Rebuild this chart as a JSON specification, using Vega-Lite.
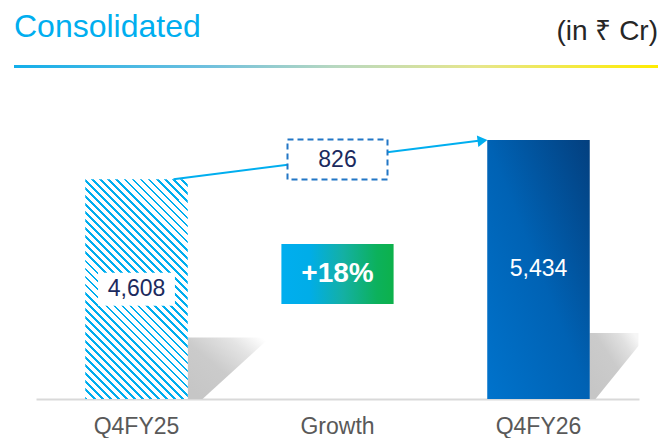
{
  "$schema": "https://vega.github.io/schema/vega-lite/v6.json",
  "padding": {"left": 14, "top": 0, "right": 0, "bottom": 0},
  "background": "white",
  "spacing": 12,
  "config": {
    "view": {"stroke": null},
    "font": "Liberation Sans",
    "axisX": {"domainColor": "#D9D9D9", "domainWidth": 2, "ticks": false, "tickSize": 0, "labelFontSize": 23, "labelColor": "#595959", "labelPadding": 16, "labelAngle": 0, "grid": false, "labelFont": "Liberation Sans"}
  },
  "datasets": {
    "bars": [{"period": "Q4FY25", "value": 4608}, {"period": "Q4FY26", "value": 5434}],
    "growth": [{"period": "Growth", "from": "Q4FY25", "to": "Q4FY26", "start": 4608, "end": 5434, "change": 826, "pct": "+18%"}],
    "header": [{"title": "Consolidated", "unit": "(in ₹ Cr)"}]
  },
  "vconcat": [
    {
      "width": 644,
      "height": 68,
      "data": {"name": "header"},
      "layer": [
        {
          "mark": {"type": "rect", "fill": {"gradient": "linear", "x1": 0, "y1": 0, "x2": 1, "y2": 0, "stops": [{"offset": 0, "color": "#12AEEA"}, {"offset": 0.3, "color": "#6FC0DE"}, {"offset": 0.5, "color": "#B8D8C0"}, {"offset": 0.72, "color": "#E6E68C"}, {"offset": 1, "color": "#FFEC00"}]}},
          "encoding": {
            "x": {"datum": 0, "type": "quantitative", "scale": {"domain": [0, 1], "nice": false}, "axis": null},
            "x2": {"datum": 1},
            "y": {"datum": 0, "type": "quantitative", "scale": {"domain": [0, 68], "nice": false}, "axis": null},
            "y2": {"datum": 3}
          }
        },
        {
          "mark": {"type": "text", "align": "left", "baseline": "alphabetic", "fontSize": 32, "color": "#00AEEF"},
          "encoding": {
            "x": {"datum": 0, "type": "quantitative"},
            "y": {"datum": 31, "type": "quantitative"},
            "text": {"field": "title"}
          }
        },
        {
          "mark": {"type": "text", "align": "right", "baseline": "alphabetic", "fontSize": 28, "color": "#262626"},
          "encoding": {
            "x": {"datum": 1, "type": "quantitative"},
            "y": {"datum": 28, "type": "quantitative"},
            "text": {"field": "unit"}
          }
        }
      ]
    },
    {
      "width": 644,
      "height": 319,
      "resolve": {"scale": {"y": "independent"}},
      "layer": [
        {
          "layer": [
            {
              "data": {"name": "bars"},
              "transform": [{"filter": "datum.period === 'Q4FY25'"}],
              "mark": {"type": "point", "filled": true, "opacity": 1, "strokeWidth": 0, "shape": "M0,0L0,-2.05L2.75,-2.05L0.5,0Z", "size": 3600, "xOffset": 51,
                "fill": {"gradient": "linear", "x1": 0, "y1": 0.8, "x2": 0.9, "y2": 0, "stops": [{"offset": 0, "color": "#C6C6C6"}, {"offset": 0.4, "color": "#CBCBCB"}, {"offset": 0.75, "color": "#E4E4E4"}, {"offset": 1, "color": "#FFFFFF"}]}},
              "encoding": {
                "x": {"field": "period", "type": "nominal", "title": null, "scale": {"domain": ["Q4FY25", "Growth", "Q4FY26"], "range": [22, 625], "paddingInner": 0.49, "paddingOuter": 0.245}},
                "y": {"datum": 0, "type": "quantitative", "scale": {"domain": [0, 6690], "nice": false}, "axis": null}
              }
            },
            {
              "data": {"name": "bars"},
              "transform": [{"filter": "datum.period === 'Q4FY26'"}],
              "mark": {"type": "point", "filled": true, "opacity": 1, "strokeWidth": 0, "shape": "M0,0L0,-2.2L1.63,-2.2L1.63,-1.77L0.2,0Z", "size": 3600, "xOffset": 51,
                "fill": {"gradient": "linear", "x1": 0, "y1": 0.8, "x2": 0.9, "y2": 0, "stops": [{"offset": 0, "color": "#C6C6C6"}, {"offset": 0.5, "color": "#CBCBCB"}, {"offset": 0.8, "color": "#E0E0E0"}, {"offset": 1, "color": "#F6F6F6"}]}},
              "encoding": {
                "x": {"field": "period", "type": "nominal", "title": null, "scale": {"domain": ["Q4FY25", "Growth", "Q4FY26"], "range": [22, 625], "paddingInner": 0.49, "paddingOuter": 0.245}},
                "y": {"datum": 0, "type": "quantitative", "scale": {"domain": [0, 6690], "nice": false}, "axis": null}
              }
            },
            {
              "data": {"name": "bars"},
              "transform": [{"filter": "datum.period === 'Q4FY25'"}],
              "mark": {"type": "bar", "fill": {"gradient": "linear", "x1": 0, "y1": 1, "x2": 0.5621, "y2": -0.2044, "stops": [
                {"offset":0,"color":"#00AEEF"},{"offset":0.0085,"color":"#00AEEF"},{"offset":0.0085,"color":"#FFFFFF"},{"offset":0.025,"color":"#FFFFFF"},
                {"offset":0.025,"color":"#00AEEF"},{"offset":0.0335,"color":"#00AEEF"},{"offset":0.0335,"color":"#FFFFFF"},{"offset":0.05,"color":"#FFFFFF"},
                {"offset":0.05,"color":"#00AEEF"},{"offset":0.0585,"color":"#00AEEF"},{"offset":0.0585,"color":"#FFFFFF"},{"offset":0.075,"color":"#FFFFFF"},
                {"offset":0.075,"color":"#00AEEF"},{"offset":0.0835,"color":"#00AEEF"},{"offset":0.0835,"color":"#FFFFFF"},{"offset":0.1,"color":"#FFFFFF"},
                {"offset":0.1,"color":"#00AEEF"},{"offset":0.1085,"color":"#00AEEF"},{"offset":0.1085,"color":"#FFFFFF"},{"offset":0.125,"color":"#FFFFFF"},
                {"offset":0.125,"color":"#00AEEF"},{"offset":0.1335,"color":"#00AEEF"},{"offset":0.1335,"color":"#FFFFFF"},{"offset":0.15,"color":"#FFFFFF"},
                {"offset":0.15,"color":"#00AEEF"},{"offset":0.1585,"color":"#00AEEF"},{"offset":0.1585,"color":"#FFFFFF"},{"offset":0.175,"color":"#FFFFFF"},
                {"offset":0.175,"color":"#00AEEF"},{"offset":0.1835,"color":"#00AEEF"},{"offset":0.1835,"color":"#FFFFFF"},{"offset":0.2,"color":"#FFFFFF"},
                {"offset":0.2,"color":"#00AEEF"},{"offset":0.2085,"color":"#00AEEF"},{"offset":0.2085,"color":"#FFFFFF"},{"offset":0.225,"color":"#FFFFFF"},
                {"offset":0.225,"color":"#00AEEF"},{"offset":0.2335,"color":"#00AEEF"},{"offset":0.2335,"color":"#FFFFFF"},{"offset":0.25,"color":"#FFFFFF"},
                {"offset":0.25,"color":"#00AEEF"},{"offset":0.2585,"color":"#00AEEF"},{"offset":0.2585,"color":"#FFFFFF"},{"offset":0.275,"color":"#FFFFFF"},
                {"offset":0.275,"color":"#00AEEF"},{"offset":0.2835,"color":"#00AEEF"},{"offset":0.2835,"color":"#FFFFFF"},{"offset":0.3,"color":"#FFFFFF"},
                {"offset":0.3,"color":"#00AEEF"},{"offset":0.3085,"color":"#00AEEF"},{"offset":0.3085,"color":"#FFFFFF"},{"offset":0.325,"color":"#FFFFFF"},
                {"offset":0.325,"color":"#00AEEF"},{"offset":0.3335,"color":"#00AEEF"},{"offset":0.3335,"color":"#FFFFFF"},{"offset":0.35,"color":"#FFFFFF"},
                {"offset":0.35,"color":"#00AEEF"},{"offset":0.3585,"color":"#00AEEF"},{"offset":0.3585,"color":"#FFFFFF"},{"offset":0.375,"color":"#FFFFFF"},
                {"offset":0.375,"color":"#00AEEF"},{"offset":0.3835,"color":"#00AEEF"},{"offset":0.3835,"color":"#FFFFFF"},{"offset":0.4,"color":"#FFFFFF"},
                {"offset":0.4,"color":"#00AEEF"},{"offset":0.4085,"color":"#00AEEF"},{"offset":0.4085,"color":"#FFFFFF"},{"offset":0.425,"color":"#FFFFFF"},
                {"offset":0.425,"color":"#00AEEF"},{"offset":0.4335,"color":"#00AEEF"},{"offset":0.4335,"color":"#FFFFFF"},{"offset":0.45,"color":"#FFFFFF"},
                {"offset":0.45,"color":"#00AEEF"},{"offset":0.4585,"color":"#00AEEF"},{"offset":0.4585,"color":"#FFFFFF"},{"offset":0.475,"color":"#FFFFFF"},
                {"offset":0.475,"color":"#00AEEF"},{"offset":0.4835,"color":"#00AEEF"},{"offset":0.4835,"color":"#FFFFFF"},{"offset":0.5,"color":"#FFFFFF"},
                {"offset":0.5,"color":"#00AEEF"},{"offset":0.5085,"color":"#00AEEF"},{"offset":0.5085,"color":"#FFFFFF"},{"offset":0.525,"color":"#FFFFFF"},
                {"offset":0.525,"color":"#00AEEF"},{"offset":0.5335,"color":"#00AEEF"},{"offset":0.5335,"color":"#FFFFFF"},{"offset":0.55,"color":"#FFFFFF"},
                {"offset":0.55,"color":"#00AEEF"},{"offset":0.5585,"color":"#00AEEF"},{"offset":0.5585,"color":"#FFFFFF"},{"offset":0.575,"color":"#FFFFFF"},
                {"offset":0.575,"color":"#00AEEF"},{"offset":0.5835,"color":"#00AEEF"},{"offset":0.5835,"color":"#FFFFFF"},{"offset":0.6,"color":"#FFFFFF"},
                {"offset":0.6,"color":"#00AEEF"},{"offset":0.6085,"color":"#00AEEF"},{"offset":0.6085,"color":"#FFFFFF"},{"offset":0.625,"color":"#FFFFFF"},
                {"offset":0.625,"color":"#00AEEF"},{"offset":0.6335,"color":"#00AEEF"},{"offset":0.6335,"color":"#FFFFFF"},{"offset":0.65,"color":"#FFFFFF"},
                {"offset":0.65,"color":"#00AEEF"},{"offset":0.6585,"color":"#00AEEF"},{"offset":0.6585,"color":"#FFFFFF"},{"offset":0.675,"color":"#FFFFFF"},
                {"offset":0.675,"color":"#00AEEF"},{"offset":0.6835,"color":"#00AEEF"},{"offset":0.6835,"color":"#FFFFFF"},{"offset":0.7,"color":"#FFFFFF"},
                {"offset":0.7,"color":"#00AEEF"},{"offset":0.7085,"color":"#00AEEF"},{"offset":0.7085,"color":"#FFFFFF"},{"offset":0.725,"color":"#FFFFFF"},
                {"offset":0.725,"color":"#00AEEF"},{"offset":0.7335,"color":"#00AEEF"},{"offset":0.7335,"color":"#FFFFFF"},{"offset":0.75,"color":"#FFFFFF"},
                {"offset":0.75,"color":"#00AEEF"},{"offset":0.7585,"color":"#00AEEF"},{"offset":0.7585,"color":"#FFFFFF"},{"offset":0.775,"color":"#FFFFFF"},
                {"offset":0.775,"color":"#00AEEF"},{"offset":0.7835,"color":"#00AEEF"},{"offset":0.7835,"color":"#FFFFFF"},{"offset":0.8,"color":"#FFFFFF"},
                {"offset":0.8,"color":"#00AEEF"},{"offset":0.8085,"color":"#00AEEF"},{"offset":0.8085,"color":"#FFFFFF"},{"offset":0.825,"color":"#FFFFFF"},
                {"offset":0.825,"color":"#00AEEF"},{"offset":0.8335,"color":"#00AEEF"},{"offset":0.8335,"color":"#FFFFFF"},{"offset":0.85,"color":"#FFFFFF"},
                {"offset":0.85,"color":"#00AEEF"},{"offset":0.8585,"color":"#00AEEF"},{"offset":0.8585,"color":"#FFFFFF"},{"offset":0.875,"color":"#FFFFFF"},
                {"offset":0.875,"color":"#00AEEF"},{"offset":0.8835,"color":"#00AEEF"},{"offset":0.8835,"color":"#FFFFFF"},{"offset":0.9,"color":"#FFFFFF"},
                {"offset":0.9,"color":"#00AEEF"},{"offset":0.9085,"color":"#00AEEF"},{"offset":0.9085,"color":"#FFFFFF"},{"offset":0.925,"color":"#FFFFFF"},
                {"offset":0.925,"color":"#00AEEF"},{"offset":0.9335,"color":"#00AEEF"},{"offset":0.9335,"color":"#FFFFFF"},{"offset":0.95,"color":"#FFFFFF"},
                {"offset":0.95,"color":"#00AEEF"},{"offset":0.9585,"color":"#00AEEF"},{"offset":0.9585,"color":"#FFFFFF"},{"offset":0.975,"color":"#FFFFFF"},
                {"offset":0.975,"color":"#00AEEF"},{"offset":0.9835,"color":"#00AEEF"},{"offset":0.9835,"color":"#FFFFFF"},{"offset":1,"color":"#FFFFFF"}
              ]}},
              "encoding": {
                "x": {"field": "period", "type": "nominal", "title": null, "scale": {"domain": ["Q4FY25", "Growth", "Q4FY26"], "range": [22, 625], "paddingInner": 0.49, "paddingOuter": 0.245}},
                "y": {"field": "value", "type": "quantitative", "scale": {"domain": [0, 6690], "nice": false}, "axis": null}
              }
            },
            {
              "data": {"name": "bars"},
              "transform": [{"filter": "datum.period === 'Q4FY26'"}],
              "mark": {"type": "bar", "fill": {"gradient": "linear", "x1": 0, "y1": 1, "x2": 1, "y2": 0, "stops": [{"offset": 0, "color": "#0073CC"}, {"offset": 0.5, "color": "#0062B4"}, {"offset": 1, "color": "#033F7E"}]}},
              "encoding": {
                "x": {"field": "period", "type": "nominal", "title": null, "scale": {"domain": ["Q4FY25", "Growth", "Q4FY26"], "range": [22, 625], "paddingInner": 0.49, "paddingOuter": 0.245}},
                "y": {"field": "value", "type": "quantitative", "scale": {"domain": [0, 6690], "nice": false}, "axis": null}
              }
            },
            {
              "data": {"name": "growth"},
              "mark": {"type": "rule", "color": "#00AEEF", "strokeWidth": 2, "xOffset": 37, "x2Offset": -54},
              "encoding": {
                "x": {"field": "from", "type": "nominal", "title": null, "scale": {"domain": ["Q4FY25", "Growth", "Q4FY26"], "range": [22, 625], "paddingInner": 0.49, "paddingOuter": 0.245}},
                "x2": {"field": "to"},
                "y": {"field": "start", "type": "quantitative", "scale": {"domain": [0, 6690], "nice": false}, "axis": null},
                "y2": {"field": "end"}
              }
            },
            {
              "data": {"name": "growth"},
              "mark": {"type": "point", "shape": "triangle-right", "filled": true, "opacity": 1, "strokeWidth": 0, "color": "#00AEEF", "size": 130, "angle": -7.4, "xOffset": -56, "yOffset": 0.7},
              "encoding": {
                "x": {"field": "to", "type": "nominal", "title": null, "scale": {"domain": ["Q4FY25", "Growth", "Q4FY26"], "range": [22, 625], "paddingInner": 0.49, "paddingOuter": 0.245}},
                "y": {"field": "end", "type": "quantitative", "scale": {"domain": [0, 6690], "nice": false}, "axis": null}
              }
            },
            {
              "data": {"name": "growth"},
              "transform": [{"fold": ["start", "end"], "as": ["k", "v"]}],
              "mark": {"type": "point", "shape": "M-2.5,-1H2.5V1H-2.5Z", "size": 1600, "filled": true, "opacity": 1, "fill": "#FFFFFF", "stroke": "#2277C6", "strokeWidth": 2, "strokeDash": [6, 4]},
              "encoding": {
                "x": {"field": "period", "type": "nominal", "title": null, "scale": {"domain": ["Q4FY25", "Growth", "Q4FY26"], "range": [22, 625], "paddingInner": 0.49, "paddingOuter": 0.245}},
                "y": {"aggregate": "mean", "field": "v", "type": "quantitative", "scale": {"domain": [0, 6690], "nice": false}, "axis": null}
              }
            },
            {
              "data": {"name": "growth"},
              "transform": [{"fold": ["start", "end"], "as": ["k", "v"]}],
              "mark": {"type": "text", "fontSize": 23, "color": "#1B2A5E", "baseline": "middle", "align": "center"},
              "encoding": {
                "x": {"field": "period", "type": "nominal", "title": null, "scale": {"domain": ["Q4FY25", "Growth", "Q4FY26"], "range": [22, 625], "paddingInner": 0.49, "paddingOuter": 0.245}},
                "y": {"aggregate": "mean", "field": "v", "type": "quantitative", "scale": {"domain": [0, 6690], "nice": false}, "axis": null},
                "text": {"field": "change", "type": "quantitative", "format": ","}
              }
            },
            {
              "data": {"name": "growth"},
              "mark": {"type": "point", "shape": "M-1.87,-1H1.87V1H-1.87Z", "size": 3600, "filled": true, "opacity": 1, "strokeWidth": 0,
                "fill": {"gradient": "linear", "x1": 0, "y1": 0.5, "x2": 1, "y2": 0.5, "stops": [{"offset": 0, "color": "#00AEEF"}, {"offset": 0.25, "color": "#00ADE8"}, {"offset": 0.55, "color": "#14B0A4"}, {"offset": 0.85, "color": "#0CB15C"}, {"offset": 1, "color": "#0DB14B"}]}},
              "encoding": {
                "x": {"field": "period", "type": "nominal", "title": null, "scale": {"domain": ["Q4FY25", "Growth", "Q4FY26"], "range": [22, 625], "paddingInner": 0.49, "paddingOuter": 0.245}},
                "y": {"datum": 2620, "type": "quantitative", "scale": {"domain": [0, 6690], "nice": false}, "axis": null}
              }
            },
            {
              "data": {"name": "growth"},
              "mark": {"type": "text", "fontSize": 28, "fontWeight": "bold", "color": "#FFFFFF", "baseline": "middle", "align": "center"},
              "encoding": {
                "x": {"field": "period", "type": "nominal", "title": null, "scale": {"domain": ["Q4FY25", "Growth", "Q4FY26"], "range": [22, 625], "paddingInner": 0.49, "paddingOuter": 0.245}},
                "y": {"datum": 2620, "type": "quantitative", "scale": {"domain": [0, 6690], "nice": false}, "axis": null},
                "text": {"field": "pct"}
              }
            }
          ]
        },
        {
          "layer": [
            {
              "data": {"name": "bars"},
              "transform": [{"filter": "datum.period === 'Q4FY25'"}],
              "mark": {"type": "point", "shape": "M-2.33,-1H2.33V1H-2.33Z", "size": 1089, "filled": true, "opacity": 1, "strokeWidth": 0, "fill": "#FFFFFF"},
              "encoding": {
                "x": {"field": "period", "type": "nominal", "title": null, "scale": {"domain": ["Q4FY25", "Growth", "Q4FY26"], "range": [22, 625], "paddingInner": 0.49, "paddingOuter": 0.245}},
                "y": {"field": "value", "type": "quantitative", "scale": {"domain": [0, 13380], "nice": false}, "axis": null}
              }
            },
            {
              "data": {"name": "bars"},
              "mark": {"type": "text", "fontSize": 23, "baseline": "middle", "align": "center"},
              "encoding": {
                "x": {"field": "period", "type": "nominal", "title": null, "scale": {"domain": ["Q4FY25", "Growth", "Q4FY26"], "range": [22, 625], "paddingInner": 0.49, "paddingOuter": 0.245}},
                "y": {"field": "value", "type": "quantitative", "scale": {"domain": [0, 13380], "nice": false}, "axis": null},
                "text": {"field": "value", "type": "quantitative", "format": ","},
                "color": {"condition": {"test": "datum.period === 'Q4FY26'", "value": "#FFFFFF"}, "value": "#1B2A5E"}
              }
            }
          ]
        }
      ]
    }
  ]
}
